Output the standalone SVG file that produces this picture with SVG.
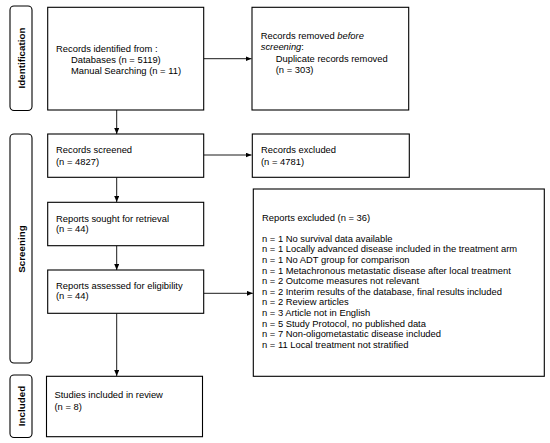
<svg xmlns="http://www.w3.org/2000/svg" width="550" height="443" viewBox="0 0 550 443">
<style>
.box{fill:#fff;stroke:#000;stroke-width:1.1}
.side{fill:#fff;stroke:#000;stroke-width:1.1}
.t{font-family:"Liberation Sans",Arial,sans-serif;font-size:9.4px;fill:#000}
.s{font-family:"Liberation Sans",Arial,sans-serif;font-size:9.8px;font-weight:bold;fill:#000;text-anchor:middle}
.c{stroke:#000;stroke-width:0.9;fill:none;marker-end:url(#ah)}
</style>
<defs>
<marker id="ah" markerWidth="6" markerHeight="5" refX="6" refY="2.5" orient="auto" markerUnits="userSpaceOnUse">
<path d="M0,0 L6,2.5 L0,5 Z" fill="#000"/>
</marker>
</defs>
<rect width="550" height="443" fill="#fff"/>
<g id="side-identification">
<rect class="side" x="10" y="6" width="22" height="104.5" rx="4"/>
<text class="s" transform="translate(24.5,58) rotate(-90)">Identification</text>
</g>
<g id="side-screening">
<rect class="side" x="10" y="134" width="22" height="229" rx="4"/>
<text class="s" transform="translate(24.5,249) rotate(-90)">Screening</text>
</g>
<g id="side-included">
<rect class="side" x="10" y="375" width="22" height="62.5" rx="4"/>
<text class="s" transform="translate(24.5,406) rotate(-90)">Included</text>
</g>
<g id="connectors">
<line class="c" x1="203.7" y1="58.7" x2="251.5" y2="58.7"/>
<line class="c" x1="116.7" y1="110" x2="116.7" y2="134"/>
<line class="c" x1="203.7" y1="155" x2="251.5" y2="155"/>
<line class="c" x1="116.7" y1="177.3" x2="116.7" y2="202"/>
<line class="c" x1="116.7" y1="245.7" x2="116.7" y2="270"/>
<line class="c" x1="203.7" y1="293.3" x2="252.8" y2="293.3"/>
<line class="c" x1="116.7" y1="313.3" x2="116.7" y2="376"/>
</g>
<g id="records-identified">
<rect class="box" x="47.7" y="7.3" width="156" height="102.7"/>
<text class="t" x="56" y="52">Records identified from :</text>
<text class="t" x="71" y="63">Databases (n = 5119)</text>
<text class="t" x="71" y="74">Manual Searching (n = 11)</text>
</g>
<g id="records-removed">
<rect class="box" x="252" y="7.3" width="156.7" height="102.7"/>
<text class="t" x="260.7" y="39">Records removed <tspan font-style="italic">before</tspan></text>
<text class="t" x="260.7" y="50"><tspan font-style="italic">screening</tspan>:</text>
<text class="t" x="275.7" y="62">Duplicate records removed</text>
<text class="t" x="275.7" y="73">(n = 303)</text>
</g>
<g id="records-screened">
<rect class="box" x="47.7" y="134" width="156" height="43.3"/>
<text class="t" x="56" y="153">Records screened</text>
<text class="t" x="56" y="165">(n = 4827)</text>
</g>
<g id="records-excluded">
<rect class="box" x="252.3" y="134" width="157" height="43.3"/>
<text class="t" x="261" y="153">Records excluded</text>
<text class="t" x="261" y="165">(n = 4781)</text>
</g>
<g id="reports-sought">
<rect class="box" x="47.7" y="202.3" width="156" height="43.4"/>
<text class="t" x="56" y="221.7">Reports sought for retrieval</text>
<text class="t" x="56" y="232.3">(n = 44)</text>
</g>
<g id="reports-assessed">
<rect class="box" x="47.7" y="270" width="156" height="43.3"/>
<text class="t" x="56" y="289">Reports assessed for eligibility</text>
<text class="t" x="56" y="299.3">(n = 44)</text>
</g>
<g id="reports-excluded">
<rect class="box" x="253.3" y="189" width="291" height="187.3"/>
<text class="t" x="262" y="220.7">Reports excluded (n = 36)</text>
<text class="t" x="262" y="241.7">n = 1 No survival data available</text>
<text class="t" x="262" y="252.3">n = 1 Locally advanced disease included in the treatment arm</text>
<text class="t" x="262" y="262.9">n = 1 No ADT group for comparison</text>
<text class="t" x="262" y="273.5">n = 1 Metachronous metastatic disease after local treatment</text>
<text class="t" x="262" y="284.1">n = 2 Outcome measures not relevant</text>
<text class="t" x="262" y="294.7">n = 2 Interim results of the database, final results included</text>
<text class="t" x="262" y="305.3">n = 2 Review articles</text>
<text class="t" x="262" y="315.9">n = 3 Article not in English</text>
<text class="t" x="262" y="326.5">n = 5 Study Protocol, no published data</text>
<text class="t" x="262" y="337.1">n = 7 Non-oligometastatic disease included</text>
<text class="t" x="262" y="347.7">n = 11 Local treatment not stratified</text>
</g>
<g id="studies-included">
<rect class="box" x="46.5" y="376.3" width="156" height="60.4"/>
<text class="t" x="54.5" y="398.3">Studies included in review</text>
<text class="t" x="54.5" y="410">(n = 8)</text>
</g>
</svg>
